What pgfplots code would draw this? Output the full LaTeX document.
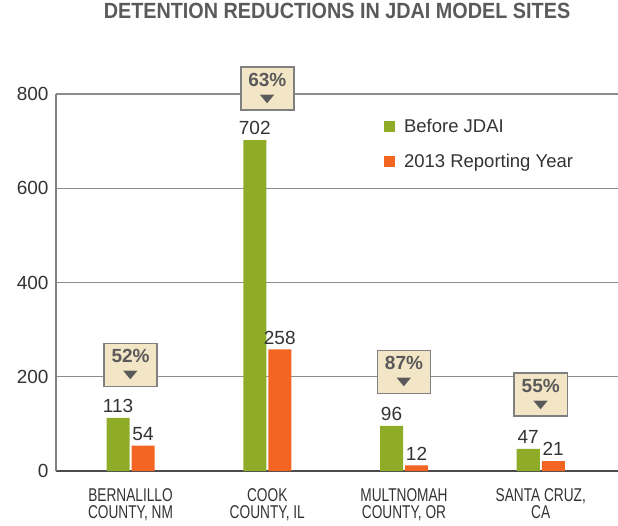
\documentclass[border=0pt]{standalone}
\usepackage{pgfplots}
\pgfplotsset{compat=1.18}
\usepackage{fontspec}
\setmainfont{Liberation Sans}
\newfontfamily\narrowfont[FakeStretch=0.74]{Liberation Sans}
\newfontfamily\titlefont[FakeStretch=0.9]{Liberation Sans}
\newfontfamily\symfont{DejaVu Sans}

\definecolor{jdaigreen}{HTML}{8FAC28}
\definecolor{jdaiorange}{HTML}{F26522}
\definecolor{boxfill}{HTML}{F3E6C6}
\definecolor{boxline}{HTML}{808080}
\definecolor{txt}{HTML}{333333}
\definecolor{titlegray}{HTML}{5A5A5A}

% sites: 0 Bernalillo, 1 Cook, 2 Multnomah, 3 Santa Cruz
\pgfplotstableread{
x before after
0 113 54
1 702 258
2 96  12
3 47  21
}\sitedata

\begin{document}
\begin{tikzpicture}
\path[use as bounding box] (-56pt,-54pt) rectangle (562pt,471pt);
\begin{axis}[
    at={(0pt,0pt)}, anchor=south west,
    scale only axis,
    width=562pt, height=377pt,
    ybar, bar width=23pt,
    ymin=0, ymax=800,
    xmin=-0.545, xmax=3.565,
    clip=false,
    axis lines=left,
    x axis line style={-, color=black!70, line width=1.5pt},
    y axis line style={-, color=boxline, line width=1.5pt},
    ytick={0,200,400,600,800},
    ymajorgrids,
    major grid style={color=gray!90, line width=1.3pt},
    major tick length=0pt,
    xtick={0,1,2,3},
    xticklabels={{BERNALILLO\\COUNTY, NM},{COOK\\COUNTY, IL},{MULTNOMAH\\COUNTY, OR},{SANTA CRUZ,\\CA}},
    xticklabel style={align=center, text=txt, font=\narrowfont\fontsize{18.5}{17}\selectfont, yshift=-14pt},
    yticklabel style={text=txt, font=\fontsize{19}{19}\selectfont, xshift=-4pt},
    /pgf/number format/assume math mode=true,
    title={DETENTION REDUCTIONS IN JDAI MODEL SITES},
    title style={at={(0.5,1)}, anchor=base, yshift=70pt, text=titlegray,
        font=\titlefont\bfseries\fontsize{22}{22}\selectfont},
    legend style={at={(0.578,0.945)}, anchor=north west, draw=none, fill=none,
        font=\fontsize{18.5}{18.5}\selectfont, text=txt, row sep=16pt,
        /tikz/every odd column/.append style={column sep=7pt},
        cells={anchor=west}},
    legend image code/.code={\fill[#1, draw=none] (0pt,-5.5pt) rectangle (11pt,5.5pt);},
    nodes near coords,
    every node near coord/.append style={anchor=south, inner sep=0pt, yshift=5pt,
        text=txt, font=\fontsize{19}{19}\selectfont},
]
\addplot[fill=jdaigreen, draw=none, bar shift=-12.5pt] table[x=x, y=before] {\sitedata};
\addplot[fill=jdaiorange, draw=none, bar shift=12.5pt] table[x=x, y=after] {\sitedata};
\legend{Before JDAI, 2013 Reporting Year}
% reduction boxes, centred on each value
\addplot[draw=none, fill=none, bar shift=0pt, forget plot,
    point meta=explicit symbolic,
    nodes near coords={\textbf{\pgfplotspointmeta}\\[-3pt]{\symfont\scalebox{1}[0.6]{\fontsize{19}{19}\selectfont ▼}}},
    every node near coord/.style={anchor=center, align=center, fill=boxfill,
        draw=boxline, line width=1.5pt, minimum width=53pt, minimum height=43pt,
        inner sep=0pt, text=titlegray, font=\fontsize{19}{19}\selectfont}]
    table[meta=lab] {
x y lab
0 225 52\%
1 812 63\%
2 210 87\%
3 162 55\%
};
\end{axis}
\end{tikzpicture}
\end{document}
